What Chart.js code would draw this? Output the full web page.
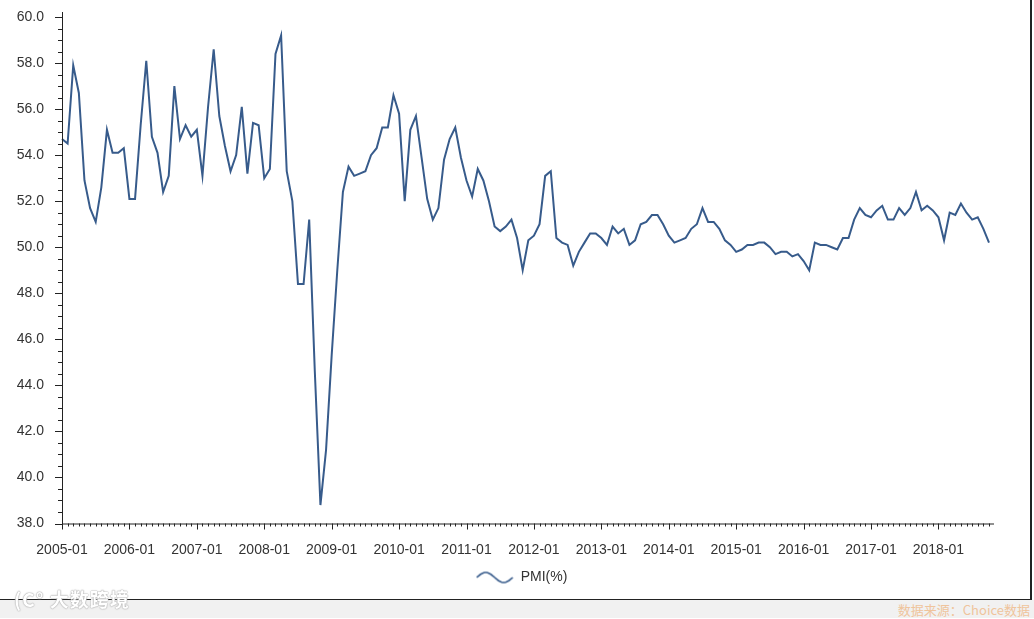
<!DOCTYPE html>
<html>
<head>
<meta charset="utf-8">
<script src="https://cdn.jsdelivr.net/npm/chart.js@4.4.1/dist/chart.umd.min.js"></script>
<style>
  body { margin: 0; background: #fff; font-family: "Liberation Sans", Arial, sans-serif; }
  #wrap { position: relative; width: 1030px; height: 599px; border-right: 2px solid #222; border-bottom: 1px solid #222; background: #fff; }
  #foot { width: 1034px; height: 18px; background: #f1f1f1; position: relative; }
  #src { position: absolute; right: 4px; top: 0px; font: 13px "Noto Sans CJK SC", sans-serif; color: #efc49c; }
  #mark { position: absolute; left: 14px; top: 585px; font: bold 19px "Noto Sans CJK SC", sans-serif; color: #fff;
          text-shadow: 0 0 1px #aaa, 0 0 1px #aaa, 0 0 2px #bbb; letter-spacing: 1px; }
</style>
</head>
<body>
<div id="wrap"><canvas id="myChart1"></canvas></div>
<div id="foot"><span id="src">数据来源：Choice数据</span></div>
<div id="mark">(C°&nbsp;大数跨境</div>
<script>
  // months 2005-01 .. 2018-10
  var years = [2005, 2006, 2007, 2008, 2009, 2010, 2011, 2012, 2013, 2014, 2015, 2016, 2017, 2018];
  var lastMonth = 10;
  var months = [];
  years.forEach(function (y) {
    for (var m = 1; m <= 12; m++) {
      if (y === 2018 && m > lastMonth) break;
      months.push(y + '-' + (m < 10 ? '0' + m : m));
    }
  });

  var pmi = [
    54.7, 54.5, 57.9, 56.7, 52.9, 51.7, 51.1, 52.6, 55.1, 54.1, 54.1, 54.3,
    52.1, 52.1, 55.3, 58.1, 54.8, 54.1, 52.4, 53.1, 57.0, 54.7, 55.3, 54.8,
    55.1, 53.1, 56.1, 58.6, 55.7, 54.4, 53.3, 54.0, 56.1, 53.2, 55.4, 55.3,
    53.0, 53.4, 58.4, 59.2, 53.3, 52.0, 48.4, 48.4, 51.2, 44.6, 38.8, 41.2,
    45.3, 49.0, 52.4, 53.5, 53.1, 53.2, 53.3, 54.0, 54.3, 55.2, 55.2, 56.6,
    55.8, 52.0, 55.1, 55.7, 53.9, 52.1, 51.2, 51.7, 53.8, 54.7, 55.2, 53.9,
    52.9, 52.2, 53.4, 52.9, 52.0, 50.9, 50.7, 50.9, 51.2, 50.4, 49.0, 50.3,
    50.5, 51.0, 53.1, 53.3, 50.4, 50.2, 50.1, 49.2, 49.8, 50.2, 50.6, 50.6,
    50.4, 50.1, 50.9, 50.6, 50.8, 50.1, 50.3, 51.0, 51.1, 51.4, 51.4, 51.0,
    50.5, 50.2, 50.3, 50.4, 50.8, 51.0, 51.7, 51.1, 51.1, 50.8, 50.3, 50.1,
    49.8, 49.9, 50.1, 50.1, 50.2, 50.2, 50.0, 49.7, 49.8, 49.8, 49.6, 49.7,
    49.4, 49.0, 50.2, 50.1, 50.1, 50.0, 49.9, 50.4, 50.4, 51.2, 51.7, 51.4,
    51.3, 51.6, 51.8, 51.2, 51.2, 51.7, 51.4, 51.7, 52.4, 51.6, 51.8, 51.6,
    51.3, 50.3, 51.5, 51.4, 51.9, 51.5, 51.2, 51.3, 50.8, 50.2
  ];

  var yMin = 38, yMax = 60, yStep = 2, yMinor = 0.5;
  var lineColor = '#375b8b';

  // wavy legend symbol
  var wave = document.createElement('canvas');
  wave.width = 38; wave.height = 14;
  (function () {
    var c = wave.getContext('2d');
    c.strokeStyle = lineColor; c.lineWidth = 1.6;
    c.beginPath();
    for (var i = 0; i <= 36; i++) {
      var yy = 7 - 5 * Math.sin(i / 36 * Math.PI * 2);
      if (i === 0) c.moveTo(i + 1, yy); else c.lineTo(i + 1, yy);
    }
    c.stroke();
  })();

  var axisPlugin = {
    id: 'axisTicks',
    afterLayout: function (chart) {
      // legend sits a little right of centre in the original
      chart.legend.left += 27;
      chart.legend.right += 27;
    },
    afterDatasetsDraw: function (chart) {
      var ctx = chart.ctx, a = chart.chartArea;
      var xs = chart.scales.x, ys = chart.scales.y;
      ctx.save();
      ctx.strokeStyle = '#222';
      ctx.lineWidth = 1;
      ctx.beginPath();
      ctx.moveTo(a.left + 0.5, a.top - 5);
      ctx.lineTo(a.left + 0.5, a.bottom + 0.5);
      ctx.lineTo(a.right + 5, a.bottom + 0.5);
      for (var v = yMin; v <= yMax + 0.001; v += yMinor) {
        var py = Math.round(ys.getPixelForValue(v)) + 0.5;
        var major = Math.abs(v / yStep - Math.round(v / yStep)) < 0.001;
        ctx.moveTo(a.left, py);
        ctx.lineTo(a.left - (major ? 7 : 4), py);
      }
      for (var i = 0; i < months.length; i++) {
        var px = Math.round(xs.getPixelForValue(i)) + 0.5;
        var jan = months[i].slice(5) === '01';
        ctx.moveTo(px, a.bottom);
        ctx.lineTo(px, a.bottom + (jan ? 6 : 3));
      }
      ctx.stroke();
      ctx.restore();
    }
  };

  var data1 = {
    labels: months,
    datasets: [{
      label: 'PMI(%)',
      data: pmi,
      borderColor: lineColor,
      backgroundColor: lineColor,
      borderWidth: 2,
      pointRadius: 0,
      tension: 0
    }]
  };

  var config1 = {
    type: 'line',
    data: data1,
    plugins: [axisPlugin],
    options: {
      responsive: false,
      animation: false,
      layout: { padding: { top: 17, right: 41, bottom: 4.5, left: 0 } },
      scales: {
        x: {
          offset: false,
          grid: { display: false, drawTicks: false },
          border: { display: false },
          afterFit: function (s) { s.height = 37; },
          ticks: {
            autoSkip: false,
            maxRotation: 0,
            padding: 18,
            color: '#333',
            font: { family: 'Liberation Sans', size: 14 },
            callback: function (v, i) { return months[i].slice(5) === '01' ? months[i] : ''; }
          }
        },
        y: {
          min: yMin,
          max: yMax,
          grid: { display: false, drawTicks: true, tickLength: 15 },
          border: { display: false },
          afterFit: function (s) { s.width = 62; },
          ticks: {
            stepSize: yStep,
            padding: 3,
            color: '#333',
            font: { family: 'Liberation Sans', size: 14 },
            callback: function (v) { return v.toFixed(1); }
          }
        }
      },
      plugins: {
        tooltip: { enabled: false },
        legend: {
          position: 'bottom',
          labels: {
            usePointStyle: true,
            pointStyleWidth: 38,
            color: '#333',
            font: { family: 'Liberation Sans', size: 14 },
            generateLabels: function (chart) {
              return [{ text: 'PMI(%)', pointStyle: wave, fillStyle: lineColor, strokeStyle: lineColor, lineWidth: 0, datasetIndex: 0, fontColor: '#333' }];
            }
          }
        }
      }
    }
  };

  var cv = document.getElementById('myChart1');
  cv.width = 1030; cv.height = 599;
  var myChart1 = new Chart(cv, config1);
</script>
</body>
</html>
